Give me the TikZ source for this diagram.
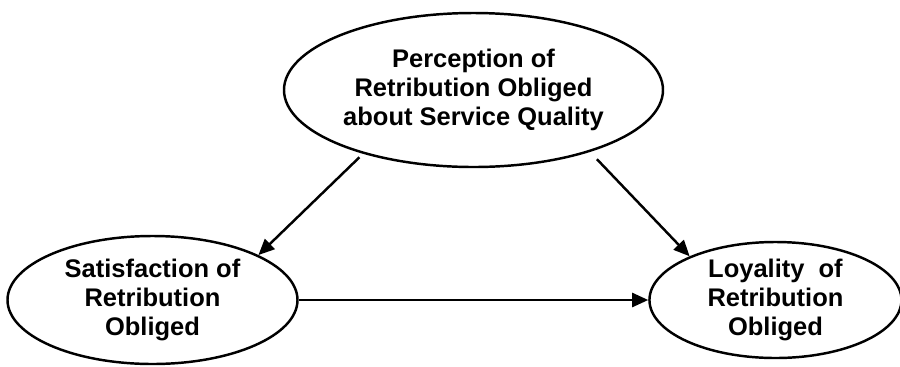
\documentclass[tikz,border=0pt]{standalone}
\usepackage{fontspec}
\setmainfont{Liberation Sans}
\usepackage{tikz}
\usetikzlibrary{shapes.geometric, arrows.meta, positioning}
\tikzset{
    construct/.style={
        ellipse,
        draw=black,
        line width=1.4pt,
        inner sep=0pt,
        align=center,
        fill=white,
        font=\fontsize{14.5}{16.5}\selectfont\bfseries
    },
    effect/.style={
        draw=black,
        line width=1.4pt,
        -{Triangle[length=0.32cm,width=0.28cm]}
    }
}

\begin{document}
\begin{tikzpicture}

\useasboundingbox (0,0) rectangle (18,-7.32);

% Perception construct
\node[construct, minimum width=7.58cm, minimum height=3.08cm] (perc) at (9.47,-1.80)
    {Perception of\\Retribution Obliged\\about Service Quality};

% Satisfaction construct
\node[construct, minimum width=5.8cm, minimum height=2.56cm] (sat) at (3.05,-6.0)
    {Satisfaction of\\Retribution\\Obliged};

% Loyality construct
\node[construct, minimum width=5.04cm, minimum height=2.32cm, right=6.99cm of sat] (loy)
    {Loyality\ \ of\\Retribution\\Obliged};

\draw[effect, shorten <=0.1cm] (perc.210.6) -- (sat.23);
\draw[effect, shorten <=0.2cm] (perc.332) -- (loy.153);
\draw[effect] (sat.east) -- (loy.west);

\end{tikzpicture}
\end{document}
